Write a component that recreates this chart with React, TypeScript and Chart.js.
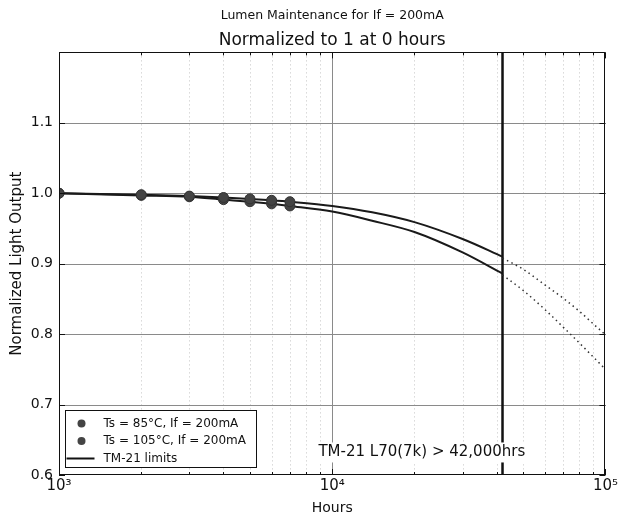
import React, { useEffect, useRef } from "react";
import { Chart, registerables } from "chart.js";

Chart.register(...registerables);

// ---- data ----
const markerHours = [1000, 2000, 3000, 4000, 5000, 6000, 7000];
const measured85 = [1.0, 0.998, 0.996, 0.994, 0.992, 0.99, 0.988];
const measured105 = [1.0, 0.997, 0.995, 0.991, 0.988, 0.985, 0.982];

const fitHours = [1000, 2000, 3000, 4000, 5000, 6000, 7000, 10000, 14000, 20000, 30000, 42000];
const fit85 = [1.0, 0.998, 0.996, 0.994, 0.992, 0.99, 0.988, 0.982, 0.973, 0.959, 0.935, 0.91];
const fit105 = [1.0, 0.997, 0.995, 0.991, 0.988, 0.985, 0.982, 0.974, 0.961, 0.945, 0.916, 0.886];

const projHours = [42000, 50000, 60000, 70000, 80000, 90000, 100000];
const proj85 = [0.908, 0.892, 0.87, 0.851, 0.833, 0.815, 0.799];
const proj105 = [0.884, 0.862, 0.835, 0.81, 0.788, 0.768, 0.75];

const limitHours = [42000, 42000];
const limitValues = [0.6, 1.2];

const yTicks = [0.6, 0.7, 0.8, 0.9, 1.0, 1.1, 1.2];
const yLabelled = [0.6, 0.7, 0.8, 0.9, 1.0, 1.1];
const xMajorTicks = [1000, 10000, 100000];
const xTickLabels = ["10³", "10⁴", "10⁵"];
const xMinorHours = [
  2000, 3000, 4000, 5000, 6000, 7000, 8000, 9000,
  20000, 30000, 40000, 50000, 60000, 70000, 80000, 90000,
];

const titleText = "Lumen Maintenance for If = 200mA";
const subtitleText = "Normalized to 1 at 0 hours";
const xTitle = "Hours";
const yTitle = "Normalized Light Output";
const legendLabels = ["Ts = 85°C, If = 200mA", "Ts = 105°C, If = 200mA", "TM-21 limits"];
const annotationText = "TM-21 L70(7k) > 42,000hrs";
const annotationHours = 8900;
const annotationValue = 0.632;

const FONT = "DejaVu Sans";

const pts = (xs: number[], ys: number[]) => xs.map((h, i) => ({ x: h, y: ys[i] }));

const decorPlugin = {
  id: "decor",
  beforeDatasetsDraw(chart: any) {
    const { ctx, chartArea: a, scales } = chart;
    const x = scales.x;
    const y = scales.y;
    ctx.save();
    ctx.lineWidth = 1;
    ctx.strokeStyle = "#c4c4c4";
    ctx.setLineDash([1, 3]);
    xMinorHours.forEach((h) => {
      const px = Math.round(x.getPixelForValue(h)) + 0.5;
      ctx.beginPath();
      ctx.moveTo(px, a.top);
      ctx.lineTo(px, a.bottom);
      ctx.stroke();
    });
    ctx.setLineDash([]);
    ctx.strokeStyle = "#8a8a8a";
    xMajorTicks.forEach((h) => {
      const px = Math.round(x.getPixelForValue(h)) + 0.5;
      if (px <= a.left + 1 || px >= a.right - 1) return;
      ctx.beginPath();
      ctx.moveTo(px, a.top);
      ctx.lineTo(px, a.bottom);
      ctx.stroke();
    });
    yTicks.forEach((v) => {
      const py = Math.round(y.getPixelForValue(v)) + 0.5;
      if (py <= a.top + 1 || py >= a.bottom - 1) return;
      ctx.beginPath();
      ctx.moveTo(a.left, py);
      ctx.lineTo(a.right, py);
      ctx.stroke();
    });
    ctx.restore();
  },
  afterDatasetsDraw(chart: any) {
    const { ctx, chartArea: a, scales } = chart;
    const x = scales.x;
    const y = scales.y;
    ctx.save();
    ctx.strokeStyle = "#111";
    ctx.lineWidth = 1;
    ctx.strokeRect(Math.round(a.left) + 0.5, Math.round(a.top) + 0.5, Math.round(a.right - a.left) - 1, Math.round(a.bottom - a.top) - 1);
    const tick = (x1: number, y1: number, x2: number, y2: number) => {
      ctx.beginPath();
      ctx.moveTo(x1, y1);
      ctx.lineTo(x2, y2);
      ctx.stroke();
    };
    yTicks.forEach((v) => {
      const py = Math.round(y.getPixelForValue(v)) + 0.5;
      tick(a.left, py, a.left + 6, py);
      tick(a.right, py, a.right - 6, py);
    });
    xMajorTicks.forEach((h) => {
      const px = Math.round(x.getPixelForValue(h)) + 0.5;
      tick(px, a.bottom, px, a.bottom - 6);
      tick(px, a.top, px, a.top + 6);
    });
    xMinorHours.forEach((h) => {
      const px = Math.round(x.getPixelForValue(h)) + 0.5;
      tick(px, a.bottom, px, a.bottom - 3);
      tick(px, a.top, px, a.top + 3);
    });

    ctx.font = `15px "${FONT}"`;
    const tx = x.getPixelForValue(annotationHours);
    const ty = y.getPixelForValue(annotationValue);
    const tw = ctx.measureText(annotationText).width;
    ctx.fillStyle = "#fff";
    ctx.fillRect(tx - 2, ty - 10, tw + 4, 20);
    ctx.fillStyle = "#111";
    ctx.textBaseline = "middle";
    ctx.textAlign = "left";
    ctx.fillText(annotationText, tx, ty);

    const bx = a.left + 6.5;
    const bw = 191;
    const bh = 57;
    const by = a.bottom - 8 - bh + 0.5;
    ctx.fillStyle = "#fff";
    ctx.fillRect(bx, by, bw, bh);
    ctx.strokeStyle = "#111";
    ctx.lineWidth = 1;
    ctx.strokeRect(bx, by, bw, bh);
    ctx.font = `12px "${FONT}"`;
    const rows = [by + 13, by + 30.5, by + 48];
    legendLabels.forEach((lab, i) => {
      const ry = rows[i];
      if (i < 2) {
        ctx.beginPath();
        ctx.arc(bx + 16, ry, 4, 0, Math.PI * 2);
        ctx.fillStyle = "#444";
        ctx.fill();
      } else {
        ctx.strokeStyle = "#111";
        ctx.lineWidth = 2;
        ctx.beginPath();
        ctx.moveTo(bx + 1, ry);
        ctx.lineTo(bx + 29, ry);
        ctx.stroke();
      }
      ctx.fillStyle = "#111";
      ctx.textBaseline = "middle";
      ctx.textAlign = "left";
      ctx.fillText(lab, bx + 38, ry);
    });
    ctx.restore();
  },
};

export default function App() {
  const ref = useRef<HTMLCanvasElement | null>(null);

  useEffect(() => {
    if (!ref.current) return;
    Chart.defaults.font.family = FONT;
    Chart.defaults.color = "#111";
    const chart = new Chart(ref.current, {
      type: "scatter",
      data: {
        datasets: [
          {
            label: legendLabels[0],
            data: pts(markerHours, measured85),
            showLine: false,
            pointRadius: 5,
            pointBackgroundColor: "#444",
            pointBorderColor: "#333",
            pointBorderWidth: 1,
            order: 0,
          },
          {
            label: legendLabels[1],
            data: pts(markerHours, measured105),
            showLine: false,
            pointRadius: 5,
            pointBackgroundColor: "#444",
            pointBorderColor: "#333",
            pointBorderWidth: 1,
            order: 0,
          },
          {
            label: "fit 85",
            data: pts(fitHours, fit85),
            showLine: true,
            borderColor: "#1a1a1a",
            borderWidth: 2,
            pointRadius: 0,
            cubicInterpolationMode: "monotone",
            order: 1,
          },
          {
            label: "fit 105",
            data: pts(fitHours, fit105),
            showLine: true,
            borderColor: "#1a1a1a",
            borderWidth: 2,
            pointRadius: 0,
            cubicInterpolationMode: "monotone",
            order: 1,
          },
          {
            label: "projection 85",
            data: pts(projHours, proj85),
            showLine: true,
            borderColor: "#333",
            borderWidth: 1.5,
            borderDash: [1.5, 3.5],
            pointRadius: 0,
            cubicInterpolationMode: "monotone",
            order: 1,
          },
          {
            label: "projection 105",
            data: pts(projHours, proj105),
            showLine: true,
            borderColor: "#333",
            borderWidth: 1.5,
            borderDash: [1.5, 3.5],
            pointRadius: 0,
            cubicInterpolationMode: "monotone",
            order: 1,
          },
          {
            label: legendLabels[2],
            data: pts(limitHours, limitValues),
            showLine: true,
            borderColor: "#111",
            borderWidth: 2.5,
            pointRadius: 0,
            order: 1,
          },
        ],
      },
      options: {
        responsive: false,
        animation: false,
        devicePixelRatio: 1,
        layout: { padding: { left: 0, right: 13, top: 0, bottom: 0 } },
        plugins: {
          legend: { display: false },
          tooltip: { enabled: false },
          title: {
            display: true,
            text: titleText,
            fullSize: false,
            color: "#111",
            font: { family: FONT, size: 12.5, weight: "normal" },
            padding: { top: 8, bottom: 4 },
          },
          subtitle: {
            display: true,
            text: subtitleText,
            fullSize: false,
            color: "#111",
            font: { family: FONT, size: 17, weight: "normal" },
            padding: { top: 3, bottom: 2 },
          },
        },
        scales: {
          x: {
            type: "logarithmic",
            min: 1000,
            max: 100000,
            grid: { display: false, drawTicks: false },
            border: { display: false },
            afterBuildTicks: (s: any) => {
              s.ticks = xMajorTicks.map((v) => ({ value: v }));
            },
            afterFit: (s: any) => {
              s.height = 43;
            },
            ticks: {
              autoSkip: false,
              maxRotation: 0,
              padding: 2,
              color: "#111",
              font: { family: FONT, size: 15 },
              callback: (v: any) => {
                const i = xMajorTicks.indexOf(Number(v));
                return i >= 0 ? xTickLabels[i] : "";
              },
            },
            title: {
              display: true,
              text: xTitle,
              color: "#111",
              font: { family: FONT, size: 14 },
              padding: { top: 0, bottom: 1 },
            },
          },
          y: {
            type: "linear",
            min: 0.6,
            max: 1.2,
            grid: { display: false, drawTicks: false },
            border: { display: false },
            afterBuildTicks: (s: any) => {
              s.ticks = yLabelled.map((v) => ({ value: v }));
            },
            afterFit: (s: any) => {
              s.width = 59;
            },
            ticks: {
              padding: 6,
              color: "#111",
              font: { family: FONT, size: 14 },
              callback: (v: any) => Number(v).toFixed(1),
            },
            title: {
              display: true,
              text: yTitle,
              color: "#111",
              font: { family: FONT, size: 15 },
              padding: { top: 8, bottom: 0 },
            },
          },
        },
      },
      plugins: [decorPlugin],
    } as any);
    return () => chart.destroy();
  }, []);

  return (
    <div style={{ position: "absolute", left: 0, top: 0, width: 620, height: 518, background: "#fff" }}>
      <canvas ref={ref} width={620} height={518} style={{ display: "block" }} />
    </div>
  );
}
